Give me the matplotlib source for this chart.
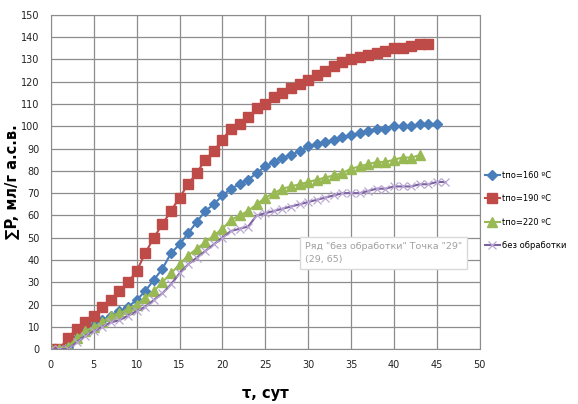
import numpy as np
import matplotlib
matplotlib.use("Agg")
import matplotlib.pyplot as plt

# data
t_160 = list(range(0, 46))
p_160 = [0, 0, 1, 5, 8, 11, 13, 15, 17, 19, 22, 26, 31, 36, 43, 47, 52, 57, 62, 65,
         69, 72, 74, 76, 79, 82, 84, 86, 87, 89, 91, 92, 93, 94, 95, 96, 97, 98, 99, 99,
         100, 100, 100, 101, 101, 101]
t_190 = list(range(0, 45))
p_190 = [0, 0, 5, 9, 12, 15, 19, 22, 26, 30, 35, 43, 50, 56, 62, 68, 74, 79, 85, 89,
         94, 99, 101, 104, 108, 110, 113, 115, 117, 119, 121, 123, 125, 127, 129, 130,
         131, 132, 133, 134, 135, 135, 136, 137, 137]
t_220 = list(range(0, 44))
p_220 = [0, 0, 1, 5, 8, 10, 12, 15, 16, 18, 20, 23, 26, 30, 34, 38, 42, 45, 48, 51,
         54, 58, 60, 62, 65, 68, 70, 72, 73, 74, 75, 76, 77, 78, 79, 81, 82, 83, 84, 84,
         85, 86, 86, 87]
t_raw = list(range(0, 47))
p_raw = [0, 0, 0, 3, 6, 8, 10, 12, 13, 15, 17, 19, 22, 25, 29, 34, 38, 41, 44, 47,
         50, 53, 54, 55, 60, 61, 62, 63, 64, 65, 66, 67, 68, 69, 70, 70, 70, 71, 72, 72,
         73, 73, 73, 74, 74, 75, 75]

fig = plt.figure(figsize=(5.78, 4.04), dpi=100)
ax = fig.add_axes([0.088, 0.136, 0.742, 0.827])

ax.plot(t_160, p_160, color="#4A7EBB", marker="D", markersize=5, lw=1.5,
        label="tпо=160 ºC")
ax.plot(t_190, p_190, color="#BE4B48", marker="s", markersize=7, lw=1.5,
        label="tпо=190 ºC")
ax.plot(t_220, p_220, color="#98B954", marker="^", markersize=6.5, lw=1.5,
        label="tпо=220 ºC")
ax.plot(t_raw, p_raw, color="#7D60A0", marker="x", markersize=6, lw=1.5,
        markeredgecolor="#B9A7D3", markeredgewidth=0.9, label="без обработки")

ax.set_xlim(0, 50)
ax.set_ylim(0, 150)
ax.set_xticks(np.arange(0, 51, 5))
ax.set_yticks(np.arange(0, 151, 10))
ax.grid(True, color="#8C8C8C", lw=0.9)
ax.set_axisbelow(True)
for s in ax.spines.values():
    s.set_color("#8C8C8C")
ax.tick_params(length=0, labelsize=7, colors="#222222", pad=8)

ax.set_xlabel("τ, сут", fontsize=10.5, fontweight="bold")
ax.xaxis.set_label_coords(0.5, -0.11)
ax.set_ylabel("∑P, мл/г а.с.в.", fontsize=10.5, fontweight="bold")
ax.yaxis.set_label_coords(-0.075, 0.5)

ax.text(29.6, 43, 'Ряд "без обработки" Точка "29"\n(29, 65)', fontsize=6.8,
        color="#A0A0A0", va="center", ha="left", linespacing=1.6,
        bbox=dict(boxstyle="square,pad=0.5", fc="white", ec="#D9D9D9", lw=1))

ax.legend(loc="center left", bbox_to_anchor=(1.0, 0.415), frameon=False,
          fontsize=6, labelspacing=1.75, handlelength=1.8, handletextpad=0.3,
          borderaxespad=0.6, borderpad=0)

fig.savefig("out.png", dpi=100)
